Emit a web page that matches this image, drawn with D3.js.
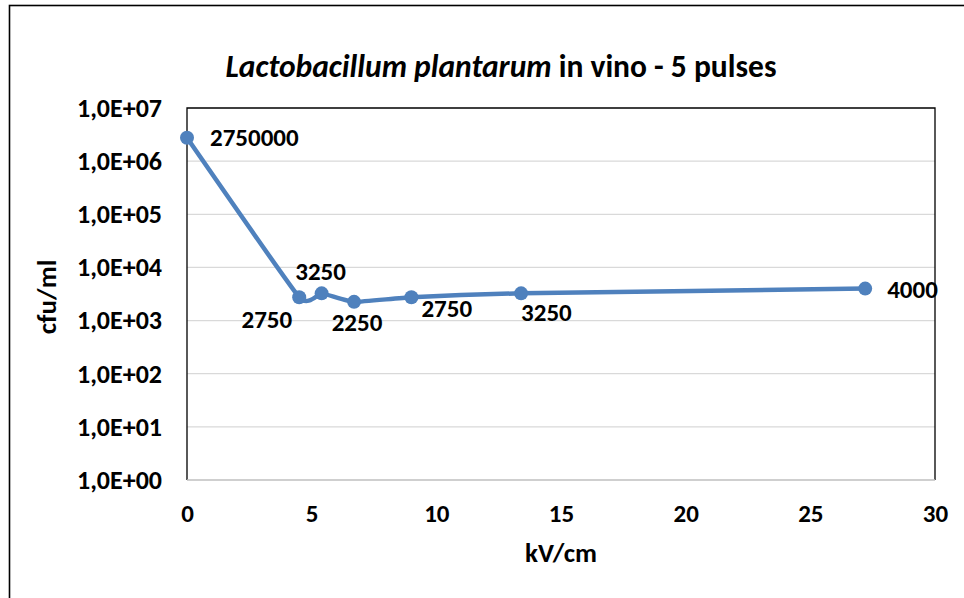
<!DOCTYPE html>
<html>
<head>
<meta charset="utf-8">
<script src="https://cdn.jsdelivr.net/npm/d3@7"></script>
<style>
  body { margin: 0; background: #fff; }
  text { font-family: Carlito, Lato, sans-serif; font-weight: bold; fill: #000; }
</style>
</head>
<body>
<script>
'use strict';

// data
const fieldKv = [0, 4.5, 5.4, 6.7, 9, 13.4, 27.2];
const cfuValues = [2750000, 2750, 3250, 2250, 2750, 3250, 4000];
const xTicks = [0, 5, 10, 15, 20, 25, 30];
const yTicks = [1, 10, 100, 1000, 10000, 100000, 1000000, 10000000];

// where each value label sits around its point [dx, dy, anchor]
const labelPlace = [
  [23, 8, 'start'],
  [-7, 31, 'end'],
  [-1, -13, 'middle'],
  [3, 29, 'middle'],
  [10, 20, 'start'],
  [0, 28, 'start'],
  [22, 9, 'start']
];

const width = 964, height = 598;
const plot = {left: 187, top: 108, right: 935, bottom: 480};

const svg = d3.select('body').append('svg')
  .attr('width', width)
  .attr('height', height);

// outer chart frame (cut off at the right and bottom like the picture)
svg.append('rect')
  .attr('x', 9.5).attr('y', 5.5)
  .attr('width', 1000).attr('height', 700)
  .attr('fill', 'none')
  .attr('stroke', '#000')
  .attr('stroke-width', 1.6);

const x = d3.scaleLinear().domain([0, 30]).range([plot.left, plot.right]);
const y = d3.scaleLog().domain([1, 1e7]).range([plot.bottom, plot.top]);

// gridlines
svg.append('g')
  .selectAll('line')
  .data(yTicks.slice(1, -1))
  .join('line')
  .attr('x1', plot.left).attr('x2', plot.right)
  .attr('y1', d => y(d)).attr('y2', d => y(d))
  .attr('stroke', '#d9d9d9')
  .attr('stroke-width', 1.3);

// plot border
svg.append('path')
  .attr('d', `M${plot.left},${plot.bottom}V${plot.top}H${plot.right}V${plot.bottom}`)
  .attr('fill', 'none')
  .attr('stroke', '#000')
  .attr('stroke-width', 1.3);
svg.append('line')
  .attr('x1', plot.left).attr('x2', plot.right)
  .attr('y1', plot.bottom).attr('y2', plot.bottom)
  .attr('stroke', '#bfbfbf')
  .attr('stroke-width', 1.6);

function sciLabel(d) {
  const e = Math.round(Math.log10(d));
  return '1,0E+' + String(e).padStart(2, '0');
}

const yAxis = svg.append('g')
  .attr('transform', `translate(${plot.left},0)`)
  .call(d3.axisLeft(y).tickValues(yTicks).tickFormat(sciLabel).tickSize(0).tickPadding(25));
yAxis.select('.domain').remove();
yAxis.selectAll('text')
  .style('font-family', 'Carlito, Lato, sans-serif')
  .style('font-weight', 'bold')
  .style('font-size', '26px')
  .attr('fill', '#000');

const xAxis = svg.append('g')
  .attr('transform', `translate(0,${plot.bottom})`)
  .call(d3.axisBottom(x).tickValues(xTicks).tickFormat(d3.format('d')).tickSize(0).tickPadding(24));
xAxis.select('.domain').remove();
xAxis.selectAll('text')
  .style('font-family', 'Carlito, Lato, sans-serif')
  .style('font-weight', 'bold')
  .style('font-size', '25px')
  .attr('fill', '#000');

// series line + markers
const points = fieldKv.map((k, i) => ({k: k, v: cfuValues[i], i: i}));

const line = d3.line()
  .x(d => x(d.k))
  .y(d => y(d.v))
  .curve(d3.curveCardinal.tension(0.6));

svg.append('path')
  .datum(points)
  .attr('d', line)
  .attr('fill', 'none')
  .attr('stroke', '#4f81bd')
  .attr('stroke-width', 4.5)
  .attr('stroke-linejoin', 'round');

svg.append('g')
  .selectAll('circle')
  .data(points)
  .join('circle')
  .attr('cx', d => x(d.k))
  .attr('cy', d => y(d.v))
  .attr('r', 7)
  .attr('fill', '#4f81bd');

// value labels
svg.append('g')
  .selectAll('text')
  .data(points)
  .join('text')
  .attr('x', d => x(d.k) + labelPlace[d.i][0])
  .attr('y', d => y(d.v) + labelPlace[d.i][1])
  .attr('text-anchor', d => labelPlace[d.i][2])
  .style('font-size', '25px')
  .text(d => d.v);

// title
const title = svg.append('text')
  .attr('x', 501)
  .attr('y', 77)
  .attr('text-anchor', 'middle')
  .style('font-size', '31.5px');
title.append('tspan').style('font-style', 'italic').text('Lactobacillum plantarum');
title.append('tspan').text(' in vino - 5 pulses');

// axis titles
svg.append('text')
  .attr('x', 561)
  .attr('y', 562)
  .attr('text-anchor', 'middle')
  .style('font-size', '27px')
  .text('kV/cm');

svg.append('text')
  .attr('transform', 'translate(56,297)rotate(-90)')
  .attr('text-anchor', 'middle')
  .style('font-size', '27px')
  .text('cfu/ml');
</script>
</body>
</html>
